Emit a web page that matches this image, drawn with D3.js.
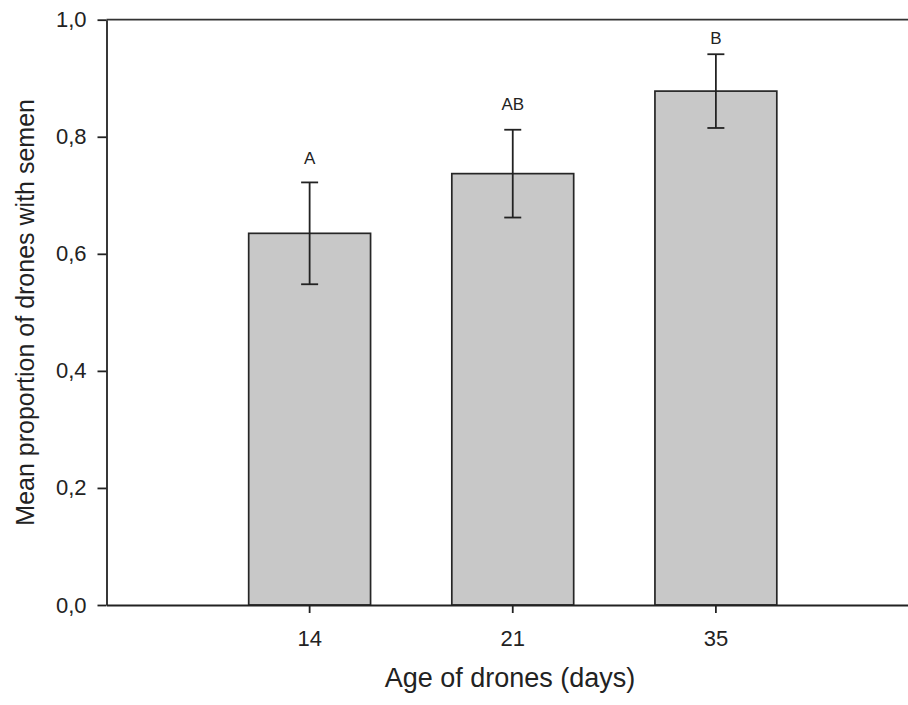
<!DOCTYPE html>
<html>
<head>
<meta charset="utf-8">
<script src="https://cdn.jsdelivr.net/npm/d3@7"></script>
<style>
  body { margin: 0; background: #fff; overflow: hidden; }
  svg { display: block; overflow: hidden; }
  text { font-family: "Liberation Sans", Arial, sans-serif; fill: #222; }
</style>
</head>
<body>
<div class="chart"></div>
<script>
// data
var ages = ["14", "21", "35"];
var means = [0.635, 0.737, 0.878];
var errs = [0.087, 0.075, 0.063];
var letters = ["A", "AB", "B"];
var letterAt = [0.753, 0.846, 0.958];
var yTickVals = [0, 0.2, 0.4, 0.6, 0.8, 1.0];

var svgWidth = 908;
var svgHeight = 705;

var margin = { top: 19.7, left: 106.5 };
var plotRight = 919;   // frame continues past the window edge
var plotBottom = 605;

var svg = d3.select(".chart")
  .append("svg")
  .attr("width", svgWidth)
  .attr("height", svgHeight);

var x = d3.scaleBand()
  .domain(ages)
  .range([margin.left, plotRight])
  .paddingInner(0.4)
  .paddingOuter(0.7);

var y = d3.scaleLinear()
  .domain([0, 1])
  .range([plotBottom, margin.top]);

var rows = ages.map(function(a, i) {
  return { age: a, mean: means[i], err: errs[i], letter: letters[i], lab: letterAt[i] };
});

// bars
svg.append("g").selectAll("rect")
  .data(rows)
  .enter()
  .append("rect")
  .attr("x", d => x(d.age))
  .attr("y", d => y(d.mean))
  .attr("width", x.bandwidth())
  .attr("height", d => y(0) - y(d.mean))
  .attr("fill", "#c8c8c8")
  .attr("stroke", "#262626")
  .attr("stroke-width", 1.7);

// error bars
var eb = svg.append("g")
  .attr("stroke", "#222")
  .attr("stroke-width", 1.8);

rows.forEach(function(d) {
  var cx = x(d.age) + x.bandwidth() / 2;
  eb.append("line")
    .attr("x1", cx).attr("x2", cx)
    .attr("y1", y(d.mean - d.err)).attr("y2", y(d.mean + d.err));
  [d.mean - d.err, d.mean + d.err].forEach(function(v) {
    eb.append("line")
      .attr("x1", cx - 8.5).attr("x2", cx + 8.5)
      .attr("y1", y(v)).attr("y2", y(v));
  });
});

// significance letters
svg.append("g").selectAll("text")
  .data(rows)
  .enter()
  .append("text")
  .attr("x", d => x(d.age) + x.bandwidth() / 2)
  .attr("y", d => y(d.lab))
  .attr("text-anchor", "middle")
  .style("font-size", "17px")
  .text(d => d.letter);

// top frame line
svg.append("line")
  .attr("x1", margin.left).attr("x2", plotRight)
  .attr("y1", y(1)).attr("y2", y(1))
  .attr("stroke", "#333")
  .attr("stroke-width", 1.8);

// axes
var bottomAxis = d3.axisBottom(x).tickSize(8).tickSizeOuter(0).tickPadding(17);
var leftAxis = d3.axisLeft(y)
  .tickValues(yTickVals)
  .tickSize(9)
  .tickSizeOuter(0)
  .tickPadding(11)
  .tickFormat(d => d3.format(".1f")(d).replace(".", ","));

var xAxis = svg.append("g")
  .attr("transform", `translate(0, ${plotBottom})`)
  .call(bottomAxis);

var yAxis = svg.append("g")
  .attr("transform", `translate(${margin.left}, 0)`)
  .call(leftAxis);

[xAxis, yAxis].forEach(function(g) {
  g.selectAll("path, line").attr("stroke", "#222").attr("stroke-width", 1.8);
  g.selectAll("text")
    .style("font-size", "22px")
    .style("font-family", "'Liberation Sans', Arial, sans-serif")
    .attr("fill", "#222");
});

// axis titles
svg.append("text")
  .attr("x", 510)
  .attr("y", 687)
  .attr("text-anchor", "middle")
  .style("font-size", "27px")
  .text("Age of drones (days)");

svg.append("text")
  .attr("transform", `translate(33.5, ${(y(0) + y(1)) / 2}) rotate(-90)`)
  .attr("text-anchor", "middle")
  .style("font-size", "25px")
  .text("Mean proportion of drones with semen");
</script>
</body>
</html>
